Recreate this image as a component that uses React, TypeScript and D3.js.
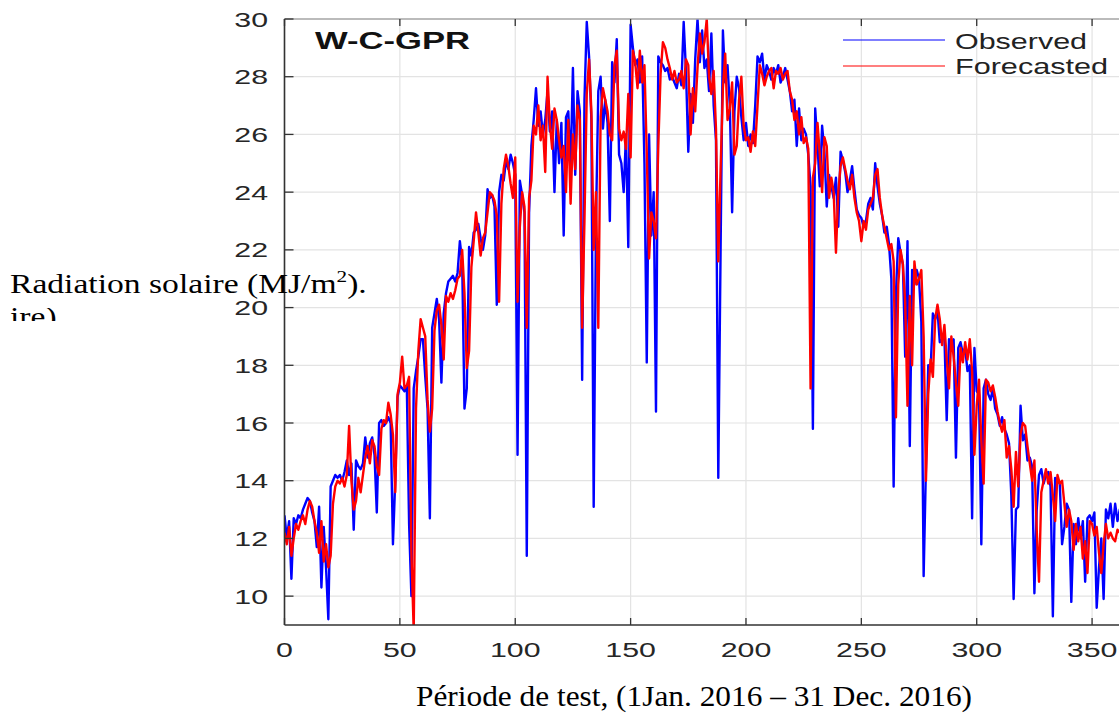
import React from "react";
import * as d3 from "d3";

const days: number[] = Array.from({ length: 366 }, (_, i) => i);

const observed: number[] = [
  12.8, 12.0, 12.6, 10.6, 12.7, 12.5, 12.8, 12.7, 13.0, 13.2,
  13.4, 13.3, 12.9, 12.6, 11.7, 13.1, 10.3, 12.4, 11.0, 9.2,
  13.8, 14.0, 14.2, 14.1, 14.2, 14.0, 14.3, 14.7, 14.2, 14.6,
  12.3, 14.7, 14.5, 14.4, 14.6, 15.5, 14.8, 15.3, 15.5, 14.9,
  12.9, 16.0, 16.1, 15.9, 16.0, 16.2, 16.0, 11.8, 14.0, 16.9,
  17.3, 17.2, 17.1, 17.3, 12.5, 10.0, 17.2, 17.8, 18.3, 18.9,
  18.9, 17.6, 16.5, 12.7, 19.3, 19.8, 20.3, 19.6, 17.4, 19.8,
  20.5, 20.9, 21.0, 21.1, 20.9, 21.2, 22.3, 21.6, 16.5, 17.2,
  22.1, 21.8, 22.6, 22.7, 22.9, 22.4, 22.0, 22.5, 24.1, 23.8,
  23.9, 23.5, 20.1, 24.0, 24.6, 24.4, 25.1, 24.8, 25.3, 25.0,
  24.6, 14.9, 24.4, 23.9, 23.3, 11.4, 23.3, 25.6, 26.5, 27.6,
  26.3, 26.8, 26.0, 26.5, 27.5, 26.1, 26.8, 24.0, 26.5, 25.0,
  26.4, 22.5, 26.6, 26.8, 24.8, 28.3, 24.6, 27.5, 26.8, 17.5,
  27.2, 29.9, 28.7, 26.5, 13.1, 23.0, 27.5, 28.0, 26.2, 27.2,
  26.4, 23.0, 28.5, 27.8, 29.3, 25.3, 25.0, 24.0, 26.0, 22.1,
  29.8, 29.0, 28.4, 28.6, 27.8, 28.7, 25.0, 18.1, 26.0, 22.5,
  24.0, 16.4, 28.7, 28.5, 28.4, 28.2, 28.3, 27.9, 28.0, 27.8,
  27.6, 28.1, 27.7, 29.9, 28.2, 25.4, 27.4, 26.4, 28.6, 30.0,
  28.5, 29.6, 28.3, 28.6, 27.5, 29.5, 27.0, 25.8, 14.1, 22.0,
  29.6, 27.8, 28.4, 27.0, 23.3, 26.8, 28.0, 27.6, 26.6, 25.8,
  26.4, 25.6, 26.0, 25.7, 27.0, 28.7, 28.5, 28.8, 27.9, 28.4,
  28.2, 27.9, 28.3, 28.1, 28.4, 27.8, 28.0, 28.3, 27.9, 27.5,
  26.8, 27.2, 25.6, 26.9, 25.8, 26.2, 26.0, 25.3, 24.2, 15.8,
  26.9, 25.6, 24.2, 26.3, 25.4, 23.5, 24.6, 24.2, 23.8, 24.5,
  22.8, 25.4, 25.1, 24.7, 24.0, 24.4, 24.9, 24.1, 23.4, 23.2,
  23.1, 22.8, 23.0, 23.6, 23.8, 23.4, 25.0, 24.2, 23.6, 23.2,
  22.6, 22.8, 22.2, 21.0, 13.8, 20.5, 22.4, 21.9, 21.5, 18.3,
  22.3, 15.2, 21.3, 20.8, 21.3, 21.0, 19.5, 10.7, 14.5, 18.0,
  17.8, 19.8, 19.6, 19.9, 18.8, 18.9, 19.0, 16.1, 18.9, 18.5,
  18.9, 14.8, 18.6, 18.8, 18.4, 18.6, 17.8, 18.0, 12.7, 18.6,
  17.1, 17.0, 11.8, 17.2, 17.5, 17.0, 16.8, 17.2, 16.5, 16.3,
  15.9, 16.2, 15.8, 15.6, 15.3, 13.5, 9.9, 13.0, 13.1, 16.6,
  15.4, 15.6, 14.7, 14.8, 14.5, 10.1, 13.0, 14.2, 14.4, 13.9,
  14.2, 14.3, 13.8, 9.3, 14.1, 14.0, 13.9, 11.8, 12.4, 13.2,
  13.0, 9.8, 12.5, 11.8, 12.7, 12.0, 12.6, 10.5, 12.7, 12.8,
  12.6, 12.9, 9.6, 11.0, 12.0, 9.9, 13.0, 12.7, 13.2, 12.4,
  13.2, 12.6, 13.0, 12.2, 12.8, 13.0,
];

const forecasted: number[] = [
  12.2, 11.8, 12.4, 11.4, 12.0, 12.5, 12.3, 12.6, 12.8, 12.5,
  13.0, 13.3, 13.1, 12.6, 12.2, 11.5, 12.6, 11.2, 11.8, 11.0,
  11.4, 13.2, 13.8, 14.0, 13.9, 14.1, 13.8, 14.2, 15.9, 14.0,
  13.0, 13.3, 14.1, 13.6, 14.2, 14.8, 15.2, 14.6, 15.4, 15.2,
  14.5, 14.2, 15.8, 16.1, 16.0, 16.7, 16.3, 15.6, 13.6, 17.0,
  17.4, 18.3, 17.2, 17.3, 17.6, 11.5, 8.8, 16.5, 18.5, 19.6,
  19.3, 19.0, 16.8, 15.7, 16.5, 19.2, 19.9, 20.1, 19.4, 18.2,
  20.4, 20.2, 20.5, 20.3, 20.6, 21.0, 21.1, 22.0, 20.5, 17.9,
  18.5, 21.4, 22.3, 23.3, 22.6, 21.8, 22.4, 22.6, 23.3, 24.0,
  23.9, 23.7, 23.2, 20.2, 23.6, 24.8, 25.3, 24.9, 24.3, 23.8,
  25.2, 20.2, 22.8, 24.0, 23.5, 19.3, 23.8, 24.4, 26.3, 26.0,
  27.0, 25.8, 26.3, 24.7, 28.0, 26.4, 25.5, 26.9, 26.5, 25.8,
  25.2, 25.6, 24.0, 26.5, 23.6, 26.0, 24.8, 27.0, 26.5, 19.3,
  23.0, 27.4, 28.6, 26.8, 22.0, 24.0, 19.3, 26.6, 27.6, 27.2,
  26.8, 26.0, 25.8, 28.4, 28.9, 26.2, 25.8, 26.1, 25.5, 27.4,
  25.2, 28.9, 28.5, 27.6, 28.9, 27.8, 28.4, 25.4, 21.7, 23.3,
  23.0, 22.4, 25.6, 28.1, 29.2, 29.0, 28.6, 28.3, 27.9, 28.2,
  27.8, 27.9, 28.2, 27.6, 28.6, 28.4, 26.0, 27.6, 26.8, 28.3,
  29.5, 28.8, 29.2, 30.0, 28.0, 27.4, 28.2, 26.2, 21.6, 24.8,
  27.6, 28.8, 26.5, 26.9, 27.8, 25.3, 25.6, 27.2, 28.0, 26.3,
  25.8, 25.9, 25.4, 26.1, 25.6, 27.0, 28.4, 28.1, 27.7, 28.0,
  28.2, 28.3, 27.6, 28.2, 28.1, 28.3, 27.9, 28.1, 28.2, 27.5,
  27.2, 26.5, 26.8, 26.0, 26.6, 25.7, 25.9, 25.5, 17.2, 24.5,
  25.0, 26.4, 25.3, 24.0, 25.9, 25.6, 23.8, 24.5, 24.0, 21.9,
  24.0, 24.9, 25.2, 24.8, 24.4, 24.1, 24.6, 23.8, 23.3, 23.0,
  22.3, 23.0, 22.7, 23.4, 23.6, 23.8, 24.6, 24.8, 23.8, 23.2,
  22.8, 22.4, 22.0, 22.2, 21.6, 16.2, 20.8, 22.0, 21.5, 20.2,
  16.6, 20.4, 18.0, 21.6, 20.8, 21.0, 21.3, 19.0, 14.0, 17.0,
  18.2, 17.6, 19.6, 20.1, 19.6, 18.7, 19.4, 18.2, 17.2, 19.0,
  18.3, 17.4, 16.6, 18.6, 18.1, 18.8, 18.2, 18.9, 17.8, 14.9,
  16.6, 17.5, 15.4, 13.9, 17.5, 17.4, 17.1, 17.3, 16.9, 16.4,
  16.0, 15.7, 16.1, 14.8, 15.2, 14.4, 13.1, 15.0, 13.8, 15.6,
  16.0, 15.9, 15.2, 14.6, 14.0, 14.7, 12.3, 10.5, 13.6, 14.0,
  14.4, 13.9, 14.3, 13.5, 12.6, 14.2, 13.9, 14.0, 13.2, 12.4,
  13.0, 12.6, 11.6, 12.5, 11.9, 12.4, 11.3, 11.9, 10.8, 12.6,
  12.5, 12.1, 12.4, 11.5, 10.8, 11.8, 12.5, 12.0, 12.2, 12.0,
  11.9, 12.3, 12.2, 12.6, 12.4, 12.5,
];

const xTicks: number[] = [0, 50, 100, 150, 200, 250, 300, 350];
const yTicks: number[] = [10, 12, 14, 16, 18, 20, 22, 24, 26, 28, 30];
const seriesNames: string[] = ["Observed", "Forecasted"];
const seriesColors: string[] = ["#0000ff", "#ff0000"];

const SANS = "'Liberation Sans', Arial, Helvetica, sans-serif";
const SERIF = "'Liberation Serif', 'Times New Roman', serif";

export default function App() {
  const W = 1119;
  const H = 715;
  const left = 284.5;
  const right = 1129;
  const top = 19;
  const bottom = 625;

  const x = d3.scaleLinear().domain([0, 366]).range([left, right]);
  const y = d3.scaleLinear().domain([9, 30]).range([bottom, top]);

  const line = d3
    .line<number>()
    .x((_, i) => x(days[i]))
    .y((d) => y(d));

  const stretch = 1.48;

  return (
    <svg
      width={W}
      height={H}
      style={{ position: "absolute", left: 0, top: 0, background: "#fff" }}
    >
      <defs>
        <clipPath id="plotClip">
          <rect x={left} y={top} width={right - left} height={bottom - top} />
        </clipPath>
        <clipPath id="cutClip">
          <rect x={0} y={308} width={120} height={13} />
        </clipPath>
      </defs>

      {/* grid */}
      <g stroke="#e3e3e3" strokeWidth={1.2}>
        {xTicks.map((t) => (
          <line key={"gx" + t} x1={x(t)} x2={x(t)} y1={top} y2={bottom} />
        ))}
        {yTicks.map((t) => (
          <line key={"gy" + t} x1={left} x2={right} y1={y(t)} y2={y(t)} />
        ))}
      </g>

      {/* series */}
      <g clipPath="url(#plotClip)" fill="none" strokeLinejoin="round">
        <path d={line(observed) || ""} stroke={seriesColors[0]} strokeWidth={2.4} />
        <path d={line(forecasted) || ""} stroke={seriesColors[1]} strokeWidth={2.4} />
      </g>

      {/* frame */}
      <line x1={left} x2={right} y1={top} y2={top} stroke="#a8a8a8" strokeWidth={1.5} />
      <line x1={left} x2={left} y1={top} y2={bottom} stroke="#333" strokeWidth={1.6} />
      <line x1={left} x2={right} y1={bottom} y2={bottom} stroke="#333" strokeWidth={1.6} />
      <line x1={right} x2={right} y1={top} y2={bottom} stroke="#333" strokeWidth={1.6} />

      {/* ticks */}
      <g stroke="#333" strokeWidth={1.3}>
        {xTicks.map((t) => (
          <g key={"tx" + t}>
            <line x1={x(t)} x2={x(t)} y1={bottom} y2={bottom - 7} />
            <line x1={x(t)} x2={x(t)} y1={top} y2={top + 7} />
          </g>
        ))}
        {yTicks.map((t) => (
          <g key={"ty" + t}>
            <line x1={left} x2={left + 9} y1={y(t)} y2={y(t)} />
            <line x1={right} x2={right - 10} y1={y(t)} y2={y(t)} />
          </g>
        ))}
      </g>

      {/* tick labels */}
      <g fill="#262626" fontFamily={SANS} fontSize={20.5}>
        {xTicks.map((t) => (
          <text
            key={"lx" + t}
            transform={`translate(${x(t)},657) scale(${stretch},1)`}
            textAnchor="middle"
          >
            {t}
          </text>
        ))}
        {yTicks.map((t) => (
          <text
            key={"ly" + t}
            transform={`translate(268,${y(t) + 7.5}) scale(${stretch},1)`}
            textAnchor="end"
          >
            {t}
          </text>
        ))}
      </g>

      {/* title */}
      <text
        x={315}
        y={49}
        fontFamily={SANS}
        fontWeight="bold"
        fontSize={23}
        fill="#111"
        textLength={155}
        lengthAdjust="spacingAndGlyphs"
      >
        W-C-GPR
      </text>

      {/* legend */}
      {seriesNames.map((name, i) => (
        <g key={name}>
          <line
            x1={843}
            x2={945}
            y1={40 + i * 26}
            y2={40 + i * 26}
            stroke={seriesColors[i]}
            strokeWidth={1.2}
          />
          <text
            x={955}
            y={49 + i * 25}
            fontFamily={SANS}
            fontSize={21.5}
            fill="#222"
            textLength={i === 0 ? 132 : 153}
            lengthAdjust="spacingAndGlyphs"
          >
            {name}
          </text>
        </g>
      ))}

      {/* y axis label */}
      <g transform="translate(10,293) scale(1.245,1)">
        <text x={0} y={0} fontFamily={SERIF} fontSize={27} fill="#000">
          Radiation solaire (MJ/m
          <tspan dy={-11} fontSize={17}>2</tspan>
          <tspan dy={11}>).</tspan>
        </text>
      </g>
      <g clipPath="url(#cutClip)">
        <g transform="translate(10,326) scale(1.245,1)">
          <text x={0} y={0} fontFamily={SERIF} fontSize={27} fill="#000">
            ire)
          </text>
        </g>
      </g>

      {/* x axis label */}
      <text
        x={416}
        y={706}
        fontFamily={SERIF}
        fontSize={29}
        fill="#000"
        textLength={556}
        lengthAdjust="spacingAndGlyphs"
      >
        Période de test, (1Jan. 2016 – 31 Dec. 2016)
      </text>
    </svg>
  );
}
